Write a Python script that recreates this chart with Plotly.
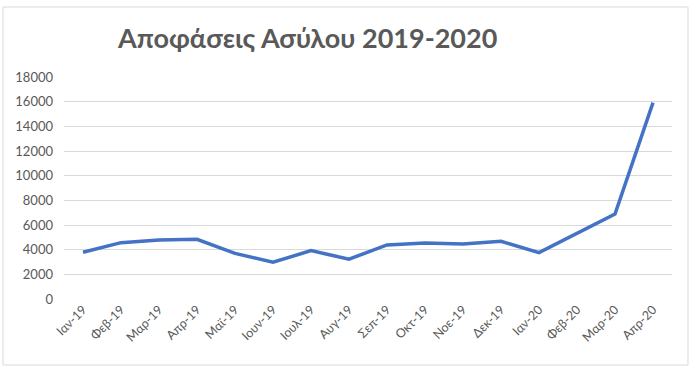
import plotly.graph_objects as go

months = ["Ιαν-19", "Φεβ-19", "Μαρ-19", "Απρ-19", "Μαϊ-19", "Ιουν-19", "Ιουλ-19", "Αυγ-19",
          "Σεπ-19", "Οκτ-19", "Νοε-19", "Δεκ-19", "Ιαν-20", "Φεβ-20", "Μαρ-20", "Απρ-20"]
decisions = [3790, 4570, 4790, 4840, 3700, 2980, 3920, 3230,
             4380, 4540, 4460, 4680, 3760, 5330, 6890, 15920]
y_ticks = [0, 2000, 4000, 6000, 8000, 10000, 12000, 14000, 16000, 18000]

W, H = 696, 370
L, R, T, B = 64, 24, 77, 71
pw, ph = W - L - R, H - T - B

def px(x):
    return (x - L) / pw

def py(y):
    return (H - B - y) / ph

fig = go.Figure(go.Scatter(
    x=months, y=decisions, mode="lines",
    line=dict(color="#4472C4", width=3.5),
    hoverinfo="x+y",
))

fig.update_layout(
    width=W, height=H,
    margin=dict(l=L, r=R, t=T, b=B),
    paper_bgcolor="white", plot_bgcolor="white",
    font=dict(family="Lato, 'Open Sans', sans-serif", color="#595959", size=12),
    showlegend=False,
    xaxis=dict(type="category", range=[-0.5, len(months) - 0.5], showgrid=False,
               showline=False, ticks="", tickangle=-45,
               tickfont=dict(size=12.5, color="#595959")),
    yaxis=dict(range=[0, 18000], tickvals=y_ticks, ticktext=[str(v) for v in y_ticks],
               showgrid=True, gridcolor="#d9d9d9", gridwidth=1, zeroline=False,
               showline=False, ticks="", tickfont=dict(size=13, color="#595959"),
               ticklabelstandoff=10),
    shapes=[dict(type="rect", xref="paper", yref="paper",
                 x0=px(3), x1=px(688), y0=py(365), y1=py(7),
                 line=dict(color="#d9d9d9", width=1), layer="below")],
    annotations=[dict(text="<b>Αποφάσεις Ασύλου 2019-2020</b>", xref="paper", yref="paper",
                      x=px(307), y=py(37), xanchor="center", yanchor="middle",
                      showarrow=False, font=dict(size=27, color="#595959"))],
)

fig.write_html("out.html")
